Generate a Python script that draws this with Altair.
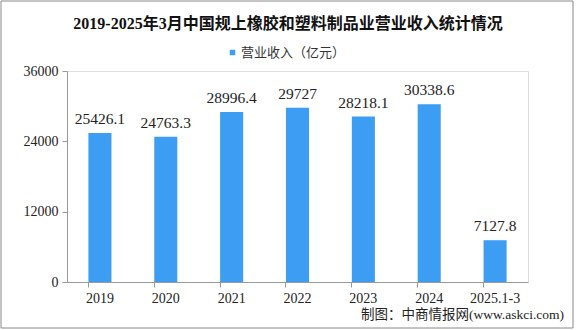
import altair as alt
import pandas as pd

years = ["2019", "2020", "2021", "2022", "2023", "2024", "2025.1-3"]
revenue = [25426.1, 24763.3, 28996.4, 29727, 28218.1, 30338.6, 7127.8]
labels = ["25426.1", "24763.3", "28996.4", "29727", "28218.1", "30338.6", "7127.8"]
series = "营业收入（亿元）"
title_text = "2019-2025年3月中国规上橡胶和塑料制品业营业收入统计情况"
source_text = "制图：中商情报网(www.askci.com)"

df = pd.DataFrame({"year": years, "value": revenue, "label": labels, "series": [series] * len(years)})
one = pd.DataFrame({"title": [title_text], "source": [source_text]})

SERIF = "Liberation Serif, Noto Sans CJK SC"
BLUE = "#3d9df2"

yscale = alt.Scale(domain=[0, 36000], nice=False)
xscale = alt.Scale(paddingInner=0.65, paddingOuter=0.325)

x = alt.X("year:N", sort=years, title=None, scale=xscale,
          axis=alt.Axis(labelAngle=0, labelFont=SERIF, labelFontSize=14, labelColor="#222",
                        domainColor="#999", tickColor="#999", tickSize=5, bandPosition=0,
                        labelPadding=4))
y = alt.Y("value:Q", title=None, scale=yscale,
          axis=alt.Axis(values=[0, 12000, 24000, 36000], format="d", labelFont=SERIF, labelFontSize=14,
                        labelColor="#222", domainColor="#999", tickColor="#999", tickSize=5,
                        grid=False, labelPadding=4))

bars = alt.Chart(df).mark_bar().encode(
    x=x, y=y,
    color=alt.Color("series:N", scale=alt.Scale(range=[BLUE]),
                    legend=alt.Legend(title=None, orient="none", legendX=159, legendY=-25,
                                      symbolType="square", symbolSize=30, labelFont=SERIF,
                                      labelFontSize=13, labelColor="#333", direction="horizontal",
                                      symbolOffset=0, labelOffset=2)),
)

text = alt.Chart(df).mark_text(dy=-14, font=SERIF, fontSize=15.5, color="#222", baseline="middle").encode(
    x=alt.X("year:N", sort=years, scale=xscale), y=alt.Y("value:Q", scale=yscale), text="label:N"
)

title = alt.Chart(one).mark_text(font=SERIF, fontSize=16, fontWeight="bold",
                                 color="#111", align="center", baseline="middle").encode(
    x=alt.value(221), y=alt.value(-47), text="title:N"
)

source = alt.Chart(one).mark_text(font=SERIF, fontSize=13.5, color="#222",
                                  align="right", baseline="middle").encode(
    x=alt.value(497), y=alt.value(244), text="source:N"
)

border = alt.Chart(one).mark_rect(fill=None, stroke="#888", strokeWidth=1, clip=False).encode(
    x=alt.value(-66), x2=alt.value(506), y=alt.value(-70), y2=alt.value(257)
)

chart = alt.layer(border, bars, text, title, source).properties(
    width=461, height=211,
    autosize=alt.AutoSizeParams(type="none"),
    padding={"left": 67, "top": 71, "right": 48, "bottom": 48},
).configure_view(stroke=None).configure(background="white")

chart.save("out.html", embed_options={"renderer": "svg", "actions": False})
